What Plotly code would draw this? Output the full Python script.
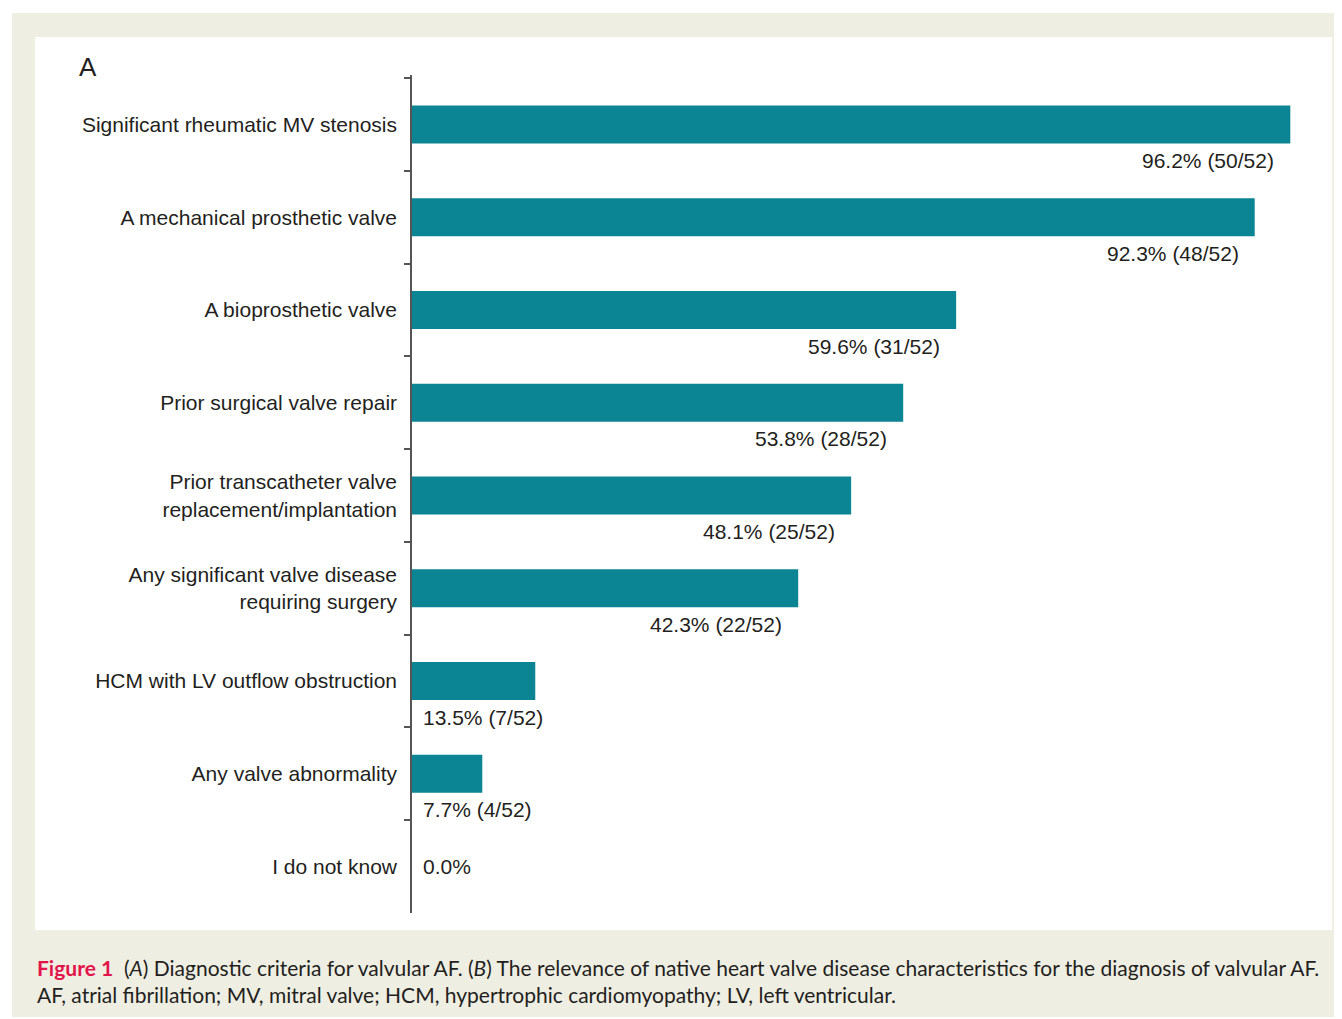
import plotly.graph_objects as go

categories = [
    "Significant rheumatic MV stenosis",
    "A mechanical prosthetic valve",
    "A bioprosthetic valve",
    "Prior surgical valve repair",
    "Prior transcatheter valve<br>replacement/implantation",
    "Any significant valve disease<br>requiring surgery",
    "HCM with LV outflow obstruction",
    "Any valve abnormality",
    "I do not know",
]
percent = [96.2, 92.3, 59.6, 53.8, 48.1, 42.3, 13.5, 7.7, 0.0]
counts = [50, 48, 31, 28, 25, 22, 7, 4, 0]
total = 52

TEAL = "#0b8493"
BEIGE = "#efeee3"
TXT = "#231f20"
FONT = "Liberation Sans, Arial, sans-serif"

OFF = 8  # page body margin
W, H = 1342 - OFF, 1019 - OFF
ML, MR, MT, MB = 412 - OFF, 17, 75 - OFF, 106
PW = W - ML - MR
PH = H - MT - MB

def px_x(px):
    return (px - OFF - ML) / PW

def px_y(py):
    return (H - MB - (py - OFF)) / PH

fig = go.Figure()
fig.add_trace(go.Bar(
    x=percent, y=categories, orientation="h",
    marker=dict(color=TEAL, line=dict(width=0)),
    hoverinfo="skip",
))

annotations = []
for cat, p, c in zip(categories, percent, counts):
    if p == 0:
        annotations.append(dict(x=0, y=cat, xref="x", yref="y", text="0.0%",
                                showarrow=False, xanchor="left", yanchor="middle",
                                xshift=9, font=dict(size=21, color=TXT, family=FONT)))
    elif p < 30:
        annotations.append(dict(x=0, y=cat, xref="x", yref="y",
                                text=f"{p:.1f}% ({c}/{total})",
                                showarrow=False, xanchor="left", yanchor="middle",
                                xshift=9, yshift=-36, font=dict(size=21, color=TXT, family=FONT)))
    else:
        annotations.append(dict(x=p, y=cat, xref="x", yref="y",
                                text=f"{p:.1f}% ({c}/{total})",
                                showarrow=False, xanchor="right", yanchor="middle",
                                xshift=-14, yshift=-36, font=dict(size=21, color=TXT, family=FONT)))

annotations.append(dict(x=px_x(77), y=px_y(67), xref="paper", yref="paper", text="A",
                        showarrow=False, xanchor="left", yanchor="middle",
                        font=dict(size=26, color=TXT, family=FONT)))

caption = ("<b><span style='color:#e2154b'>Figure 1</span></b>  (<i>A</i>) Diagnostic criteria for valvular AF. "
           "(<i>B</i>) The relevance of native heart valve disease characteristics for the diagnosis of valvular AF."
           "<br>AF, atrial fibrillation; MV, mitral valve; HCM, hypertrophic cardiomyopathy; LV, left ventricular.")
annotations.append(dict(x=px_x(35), y=px_y(981), xref="paper", yref="paper", text=caption,
                        showarrow=False, xanchor="left", yanchor="middle", align="left",
                        font=dict(size=21, color=TXT, family="Lato, sans-serif")))

shapes = [
    dict(type="rect", xref="paper", yref="paper", layer="below",
         x0=px_x(12), x1=px_x(1350), y0=px_y(1017), y1=px_y(13),
         fillcolor=BEIGE, line=dict(width=0)),
    dict(type="rect", xref="paper", yref="paper", layer="below",
         x0=px_x(35), x1=px_x(1332), y0=px_y(930), y1=px_y(37),
         fillcolor="white", line=dict(width=0)),
]

fig.update_layout(
    width=W, height=H,
    margin=dict(l=ML, r=MR, t=MT, b=MB, pad=0),
    paper_bgcolor="white", plot_bgcolor="rgba(0,0,0,0)",
    bargap=0.59, showlegend=False,
    annotations=annotations, shapes=shapes,
    xaxis=dict(range=[0, 100], visible=False, fixedrange=True),
    yaxis=dict(
        categoryorder="array", categoryarray=categories, autorange="reversed",
        showline=True, linecolor="#555555", linewidth=1.5,
        ticks="outside", ticklen=6, tickcolor="#555555", tickwidth=1.5,
        tickson="boundaries", showgrid=False, zeroline=False,
        tickfont=dict(size=21, color=TXT, family=FONT),
        ticklabelstandoff=9, fixedrange=True,
    ),
)

fig.write_html("out.html")
